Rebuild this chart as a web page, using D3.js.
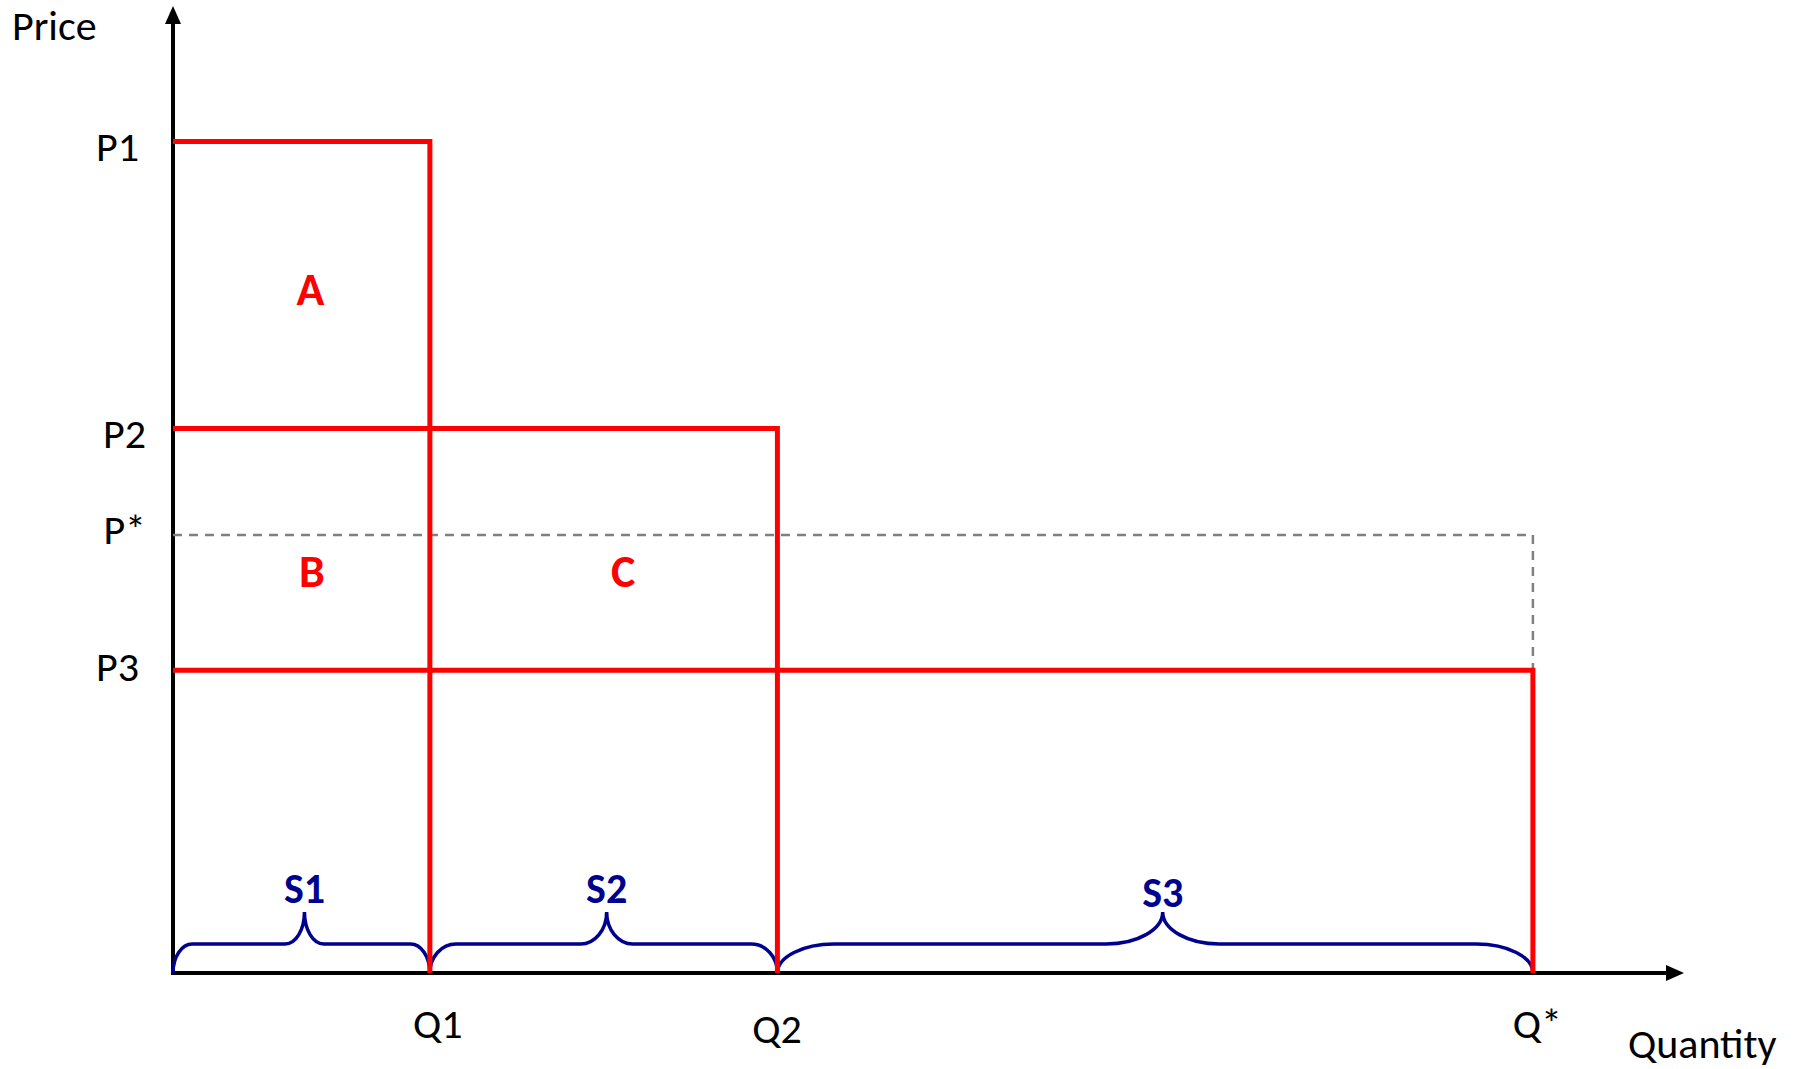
<!DOCTYPE html>
<html>
<head>
<meta charset="utf-8">
<script src="https://cdn.jsdelivr.net/npm/d3@7"></script>
<style>
  html, body { margin: 0; padding: 0; background: #fff; }
  svg { display: block; }
  text { font-family: Carlito, Lato, "Open Sans", sans-serif; }
</style>
</head>
<body>
<script>
// ---- data ----
const priceLabels = ["P1", "P2", "P*", "P3"];
const priceValues = [8.6, 5.63, 4.53, 3.13];
const quantityLabels = ["Q1", "Q2", "Q*"];
const quantityValues = [1.7, 4.0, 9.0];
const stepPrices = [8.6, 5.63, 3.13];       // P1, P2, P3
const stepQuantities = [1.7, 4.0, 9.0];     // Q1, Q2, Q*
const equilibriumPrice = 4.53;              // P*
const equilibriumQuantity = 9.0;            // Q*
const areaLabels = ["A", "B", "C"];
const areaQ = [0.91, 0.92, 2.98];
const areaP = [6.91, 3.99, 3.99];
const segmentLabels = ["S1", "S2", "S3"];
const segmentStart = [0, 1.7, 4.0];
const segmentEnd = [1.7, 4.0, 9.0];
const segmentTip = [0.87, 2.87, 6.55];
const axisTitles = ["Price", "Quantity"];

// ---- layout ----
const W = 1800, H = 1069;
const FS = 42;
const svg = d3.select("body").append("svg").attr("width", W).attr("height", H);
svg.append("rect").attr("width", W).attr("height", H).attr("fill", "#fff");

const x = d3.scaleLinear().domain([0, 10]).range([173, 1684]);
const y = d3.scaleLinear().domain([0, 10]).range([973, 6]);

const RED = "#ff0000", NAVY = "#00008f", GREY = "#808080";

// axes (domain lines + text labels)
const yAxis = d3.axisLeft(y).tickValues(priceValues)
  .tickFormat((d, i) => priceLabels[i]).tickSizeInner(0).tickSizeOuter(0).tickPadding(34);
const gy = svg.append("g").attr("transform", `translate(${x(0)},0)`).call(yAxis);
const pDy = [19, 19, 9, 10];
const pDx = [0, 7, 7, 0];
gy.selectAll(".tick text").attr("dy", (d, i) => pDy[i]).attr("dx", (d, i) => pDx[i]).attr("font-size", FS)
  .attr("font-family", "Carlito, Lato, sans-serif").attr("fill", "#000");
gy.select(".domain").attr("stroke", "#000").attr("stroke-width", 4).attr("d", `M0,${y(0)+2}V${y(10)+14}`);

const xAxis = d3.axisBottom(x).tickValues(quantityValues)
  .tickFormat((d, i) => quantityLabels[i]).tickSizeInner(0).tickSizeOuter(0).tickPadding(0);
const gx = svg.append("g").attr("transform", `translate(0,${y(0)})`).call(xAxis);
const qDx = [7.5, -1, 4];
const qDy = [65, 70, 65];
gx.selectAll(".tick text").attr("dy", null).attr("y", (d, i) => qDy[i]).attr("x", (d, i) => qDx[i])
  .attr("font-size", FS).attr("font-family", "Carlito, Lato, sans-serif").attr("fill", "#000");
gx.select(".domain").attr("stroke", "#000").attr("stroke-width", 4).attr("d", `M${x(0)-2},0H${x(10)-14}`);

// arrowheads
svg.append("path").attr("d", `M${x(0)},${y(10)} L${x(0)-8},${y(10)+18} L${x(0)+8},${y(10)+18} Z`).attr("fill", "#000");
svg.append("path").attr("d", `M${x(10)},${y(0)} L${x(10)-18},${y(0)-8} L${x(10)-18},${y(0)+8} Z`).attr("fill", "#000");

// axis titles
svg.append("text").attr("x", 12).attr("y", 40).attr("font-size", FS).text(axisTitles[0]);
svg.append("text").attr("x", 1628).attr("y", 1058).attr("font-size", FS).text(axisTitles[1]);

// dashed equilibrium line
svg.append("path")
  .attr("d", `M${x(0)},${y(equilibriumPrice)} H${x(equilibriumQuantity)} V${y(stepPrices[2])}`)
  .attr("fill", "none").attr("stroke", GREY).attr("stroke-width", 2.5).attr("stroke-dasharray", "9,7");

// braces
const braceFlat = 29, braceTip = 61, k = 0.552;
function bracePath(x0, x1, xt) {
  const base = y(0), flat = base - braceFlat, tip = base - braceTip;
  const r = 0.075 * (x1 - x0);
  return `M${x0},${base}` +
    `C${x0},${base - k * (base - flat)} ${x0 + r - k * r},${flat} ${x0 + r},${flat}` +
    `L${xt - r},${flat}` +
    `C${xt - r + k * r},${flat} ${xt},${tip + k * (flat - tip)} ${xt},${tip}` +
    `C${xt},${tip + k * (flat - tip)} ${xt + r - k * r},${flat} ${xt + r},${flat}` +
    `L${x1 - r},${flat}` +
    `C${x1 - r + k * r},${flat} ${x1},${base - k * (base - flat)} ${x1},${base}`;
}
segmentLabels.forEach((lab, i) => {
  svg.append("path").attr("d", bracePath(x(segmentStart[i]), x(segmentEnd[i]), x(segmentTip[i])))
    .attr("fill", "none").attr("stroke", NAVY).attr("stroke-width", 3.5);
  svg.append("text").attr("x", x(segmentTip[i])).attr("y", y(0) - braceTip - (i === 2 ? 5 : 9))
    .attr("text-anchor", "middle").attr("font-size", FS).attr("font-weight", "bold")
    .attr("fill", NAVY).text(lab);
});

// red step lines
stepPrices.forEach((p, i) => {
  svg.append("path")
    .attr("d", `M${x(0)},${y(p)} H${x(stepQuantities[i])} V${y(0)}`)
    .attr("fill", "none").attr("stroke", RED).attr("stroke-width", 5)
    .attr("stroke-linejoin", "miter");
});

// area labels
areaLabels.forEach((lab, i) => {
  svg.append("text").attr("x", x(areaQ[i])).attr("y", y(areaP[i]))
    .attr("text-anchor", "middle").attr("font-size", 46).attr("font-weight", "bold")
    .attr("fill", RED).text(lab);
});
</script>
</body>
</html>
